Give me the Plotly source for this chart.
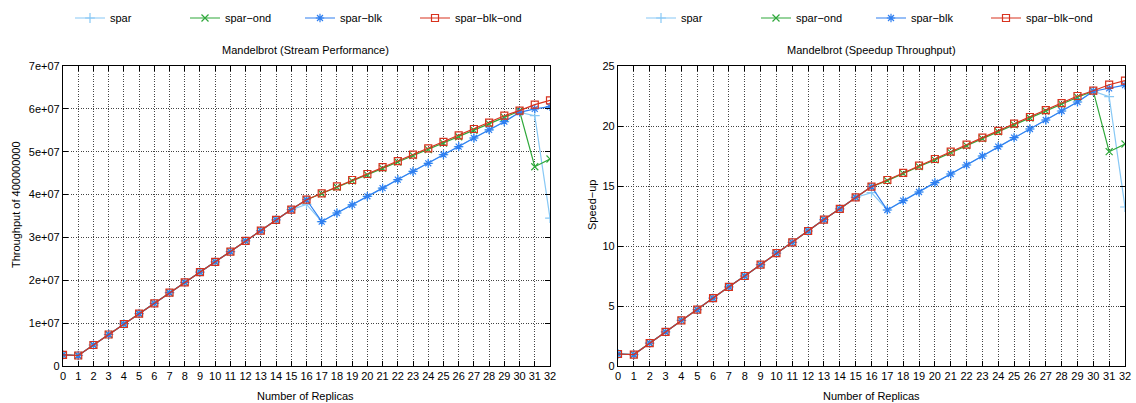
import plotly.graph_objects as go

replicas = list(range(33))

# Throughput (left chart)
thr_spar = [2.6e6, 2.45e6, 4.9e6, 7.35e6, 9.8e6, 1.22e7, 1.46e7, 1.71e7, 1.95e7, 2.19e7, 2.43e7,
            2.67e7, 2.92e7, 3.16e7, 3.41e7, 3.65e7, 3.77e7, 3.37e7, 3.57e7, 3.76e7, 3.96e7,
            4.15e7, 4.35e7, 4.54e7, 4.73e7, 4.93e7, 5.12e7, 5.32e7, 5.51e7, 5.7e7, 5.92e7,
            5.84e7, 3.45e7]
thr_spar_ond = [2.6e6, 2.45e6, 4.9e6, 7.35e6, 9.8e6, 1.22e7, 1.46e7, 1.71e7, 1.95e7, 2.19e7, 2.43e7,
                2.67e7, 2.92e7, 3.16e7, 3.41e7, 3.65e7, 3.88e7, 4.02e7, 4.17e7, 4.32e7, 4.46e7,
                4.61e7, 4.76e7, 4.91e7, 5.05e7, 5.2e7, 5.35e7, 5.5e7, 5.65e7, 5.8e7, 5.95e7,
                4.65e7, 4.83e7]
thr_spar_blk = [2.6e6, 2.45e6, 4.9e6, 7.35e6, 9.8e6, 1.22e7, 1.46e7, 1.71e7, 1.95e7, 2.19e7, 2.43e7,
                2.67e7, 2.92e7, 3.16e7, 3.41e7, 3.65e7, 3.88e7, 3.37e7, 3.57e7, 3.76e7, 3.96e7,
                4.15e7, 4.35e7, 4.54e7, 4.73e7, 4.93e7, 5.12e7, 5.32e7, 5.51e7, 5.7e7, 5.92e7,
                6.0e7, 6.05e7]
thr_spar_blk_ond = [2.6e6, 2.45e6, 4.9e6, 7.35e6, 9.8e6, 1.22e7, 1.46e7, 1.71e7, 1.95e7, 2.19e7, 2.43e7,
                    2.67e7, 2.92e7, 3.16e7, 3.41e7, 3.65e7, 3.88e7, 4.03e7, 4.19e7, 4.34e7, 4.48e7,
                    4.64e7, 4.78e7, 4.93e7, 5.08e7, 5.23e7, 5.38e7, 5.53e7, 5.68e7, 5.84e7, 5.96e7,
                    6.1e7, 6.2e7]

# Speedup (right chart)
spd_spar = [1.0, 0.95, 1.9, 2.85, 3.8, 4.7, 5.65, 6.6, 7.5, 8.45, 9.4, 10.3, 11.25, 12.2, 13.1, 14.05,
            14.45, 13.0, 13.78, 14.5, 15.28, 16.0, 16.75, 17.5, 18.28, 19.03, 19.75, 20.5, 21.25,
            22.0, 22.9, 22.45, 13.25]
spd_spar_ond = [1.0, 0.95, 1.9, 2.85, 3.8, 4.7, 5.65, 6.6, 7.5, 8.45, 9.4, 10.3, 11.25, 12.2, 13.1, 14.05,
                14.95, 15.45, 16.05, 16.62, 17.18, 17.8, 18.36, 18.95, 19.52, 20.1, 20.67, 21.25,
                21.82, 22.4, 22.9, 17.86, 18.5]
spd_spar_blk = [1.0, 0.95, 1.9, 2.85, 3.8, 4.7, 5.65, 6.6, 7.5, 8.45, 9.4, 10.3, 11.25, 12.2, 13.1, 14.05,
                14.95, 13.0, 13.78, 14.5, 15.28, 16.0, 16.75, 17.5, 18.28, 19.03, 19.75, 20.5, 21.25,
                22.0, 22.9, 23.14, 23.4]
spd_spar_blk_ond = [1.0, 0.95, 1.9, 2.85, 3.8, 4.7, 5.65, 6.6, 7.5, 8.45, 9.4, 10.3, 11.25, 12.2, 13.1, 14.05,
                    14.95, 15.5, 16.1, 16.7, 17.25, 17.86, 18.44, 19.03, 19.6, 20.2, 20.75, 21.33,
                    21.9, 22.5, 22.94, 23.44, 23.78]

series_names = ["spar", "spar\u2212ond", "spar\u2212blk", "spar\u2212blk\u2212ond"]
colors = ["#87c8f5", "#2ea83a", "#2f7ff0", "#d8321e"]
symbols = ["cross-thin-open", "x-thin-open", "asterisk-open", "square-open"]

thr_tickvals = [0, 1e7, 2e7, 3e7, 4e7, 5e7, 6e7, 7e7]
thr_ticktext = ["0", "1e+07", "2e+07", "3e+07", "4e+07", "5e+07", "6e+07", "7e+07"]
spd_tickvals = [0, 5, 10, 15, 20, 25]

W, H = 1136, 403
FONT = "Liberation Sans, Arial, sans-serif"

fig = go.Figure()
left = [thr_spar, thr_spar_ond, thr_spar_blk, thr_spar_blk_ond]
right = [spd_spar, spd_spar_ond, spd_spar_blk, spd_spar_blk_ond]
for i in range(4):
    fig.add_trace(go.Scatter(x=replicas, y=left[i], name=series_names[i], mode="lines+markers",
                             line=dict(color=colors[i], width=1.2),
                             marker=dict(symbol=symbols[i], size=7, color=colors[i],
                                         line=dict(color=colors[i], width=1.2)),
                             xaxis="x", yaxis="y", legend="legend"))
for i in range(4):
    fig.add_trace(go.Scatter(x=replicas, y=right[i], name=series_names[i], mode="lines+markers",
                             line=dict(color=colors[i], width=1.2),
                             marker=dict(symbol=symbols[i], size=7, color=colors[i],
                                         line=dict(color=colors[i], width=1.2)),
                             xaxis="x2", yaxis="y2", legend="legend2"))

def px(x):
    return x / W

def py(y):
    return 1 - y / H

axis_common = dict(showline=True, linecolor="black", linewidth=1.2, mirror="ticks",
                   ticks="inside", ticklen=5, tickcolor="black",
                   showgrid=True, gridcolor="#444444", griddash="1px,1.5px", gridwidth=0.8,
                   zeroline=False, automargin=False,
                   tickfont=dict(family=FONT, size=11, color="black"))

def label(text, x, y, angle=0):
    return dict(text=text, x=px(x), y=py(y), xref="paper", yref="paper", xanchor="center",
                yanchor="middle", showarrow=False, textangle=angle, font=dict(family=FONT, size=11))

fig.update_layout(
    width=W, height=H,
    margin=dict(l=0, r=0, t=0, b=0, autoexpand=False),
    paper_bgcolor="white", plot_bgcolor="white",
    font=dict(family=FONT, size=11, color="black"),
    xaxis=dict(domain=[px(63), px(550)], range=[0, 32], tickvals=replicas, anchor="y",
               tickangle=0, **axis_common),
    yaxis=dict(domain=[py(366), py(66)], range=[0, 7e7], tickvals=thr_tickvals, ticktext=thr_ticktext,
               anchor="x", **axis_common),
    xaxis2=dict(domain=[px(618), px(1125)], range=[0, 32], tickvals=replicas, anchor="y2",
                tickangle=0, **axis_common),
    yaxis2=dict(domain=[py(366), py(66)], range=[0, 25], tickvals=spd_tickvals, anchor="x2", **axis_common),
    legend=dict(orientation="h", x=px(70), y=py(18), xanchor="left", yanchor="middle",
                entrywidth=70, entrywidthmode="pixels", font=dict(family=FONT, size=11),
                bgcolor="rgba(0,0,0,0)"),
    legend2=dict(orientation="h", x=px(641), y=py(18), xanchor="left", yanchor="middle",
                 entrywidth=70, entrywidthmode="pixels", font=dict(family=FONT, size=11),
                 bgcolor="rgba(0,0,0,0)"),
    annotations=[
        label("Mandelbrot (Stream Performance)", 306, 50),
        label("Mandelbrot (Speedup Throughput)", 871, 50),
        label("Number of Replicas", 306, 396),
        label("Number of Replicas", 871, 396),
        label("Throughput of 400000000", 16, 205, -90),
        label("Speed\u2212up", 592, 205, -90),
    ],
)

fig.write_html("out.html", config={"displayModeBar": False},
               post_script="document.body.style.margin='0';document.body.style.padding='0';")
